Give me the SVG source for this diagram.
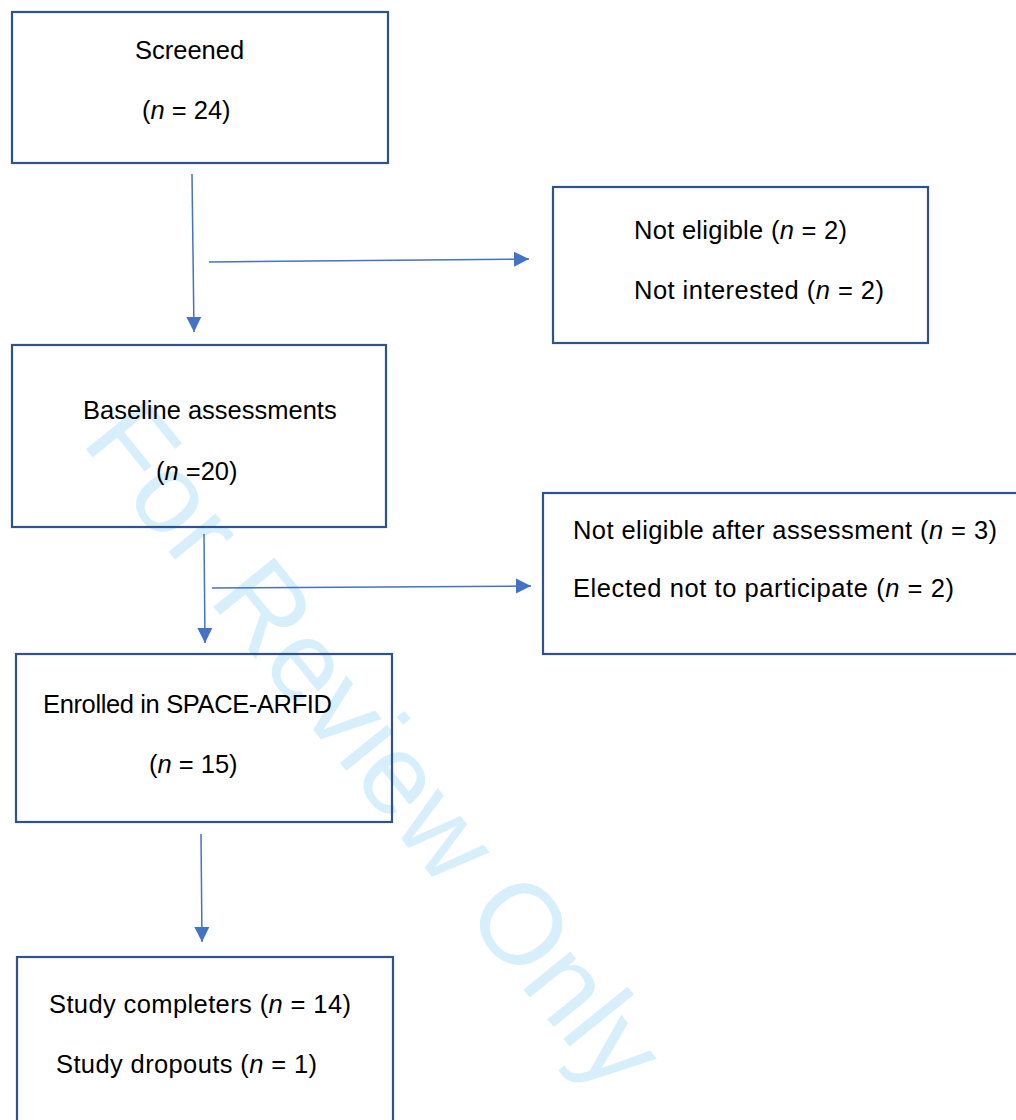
<svg xmlns="http://www.w3.org/2000/svg" width="1016" height="1120" viewBox="0 0 1016 1120">
<style>
.box{fill:none;stroke:#2F528F;stroke-width:2.2}
.lbl{font-family:"Liberation Sans",Arial,sans-serif;font-size:25.5px;fill:#000}
.edge{stroke:#4472C4;stroke-width:1.5;fill:none;marker-end:url(#ah)}
.wm{font-family:"Liberation Sans",Arial,sans-serif;font-size:114px;fill:#D6EFFB}
</style>
<defs>
<marker id="ah" markerUnits="userSpaceOnUse" markerWidth="16" markerHeight="16" refX="15" refY="7.5" orient="auto" viewBox="0 0 16 15">
<path d="M0,0 L15,7.5 L0,15 z" fill="#4472C4"/>
</marker>
</defs>
<rect width="1016" height="1120" fill="#fff"/>
<text class="wm" transform="translate(80,442) rotate(51)">For Review Only</text>
<g id="connectors">
<line class="edge" x1="192" y1="174" x2="194" y2="332"/>
<line class="edge" x1="209" y1="262" x2="529" y2="259"/>
<line class="edge" x1="204" y1="534" x2="205" y2="643"/>
<line class="edge" x1="212" y1="588" x2="531" y2="586"/>
<line class="edge" x1="201" y1="834" x2="202" y2="942"/>
</g>
<g id="screened">
<rect class="box" x="12" y="12" width="376" height="151"/>
<text class="lbl" x="135" y="59">Screened</text>
<text class="lbl" x="142" y="119">(<tspan font-style="italic">n</tspan> = 24)</text>
</g>
<g id="excluded1">
<rect class="box" x="553" y="187" width="375" height="156"/>
<text class="lbl" x="634" y="239" textLength="213">Not eligible (<tspan font-style="italic">n</tspan> = 2)</text>
<text class="lbl" x="634" y="299" textLength="250">Not interested (<tspan font-style="italic">n</tspan> = 2)</text>
</g>
<g id="baseline">
<rect class="box" x="12" y="345" width="374" height="182"/>
<text class="lbl" x="83" y="419">Baseline assessments</text>
<text class="lbl" x="156" y="480">(<tspan font-style="italic">n</tspan> =20)</text>
</g>
<g id="excluded2">
<rect class="box" x="543" y="493" width="490" height="161"/>
<text class="lbl" x="573" y="539" textLength="424">Not eligible after assessment (<tspan font-style="italic">n</tspan> = 3)</text>
<text class="lbl" x="573" y="597" textLength="381">Elected not to participate (<tspan font-style="italic">n</tspan> = 2)</text>
</g>
<g id="enrolled">
<rect class="box" x="16" y="654" width="376" height="168"/>
<text class="lbl" x="43" y="713" textLength="289">Enrolled in SPACE-ARFID</text>
<text class="lbl" x="149" y="773">(<tspan font-style="italic">n</tspan> = 15)</text>
</g>
<g id="completers">
<rect class="box" x="17" y="957" width="376" height="180"/>
<text class="lbl" x="49" y="1013" textLength="302">Study completers (<tspan font-style="italic">n</tspan> = 14)</text>
<text class="lbl" x="56" y="1073" textLength="261">Study dropouts (<tspan font-style="italic">n</tspan> = 1)</text>
</g>
</svg>
